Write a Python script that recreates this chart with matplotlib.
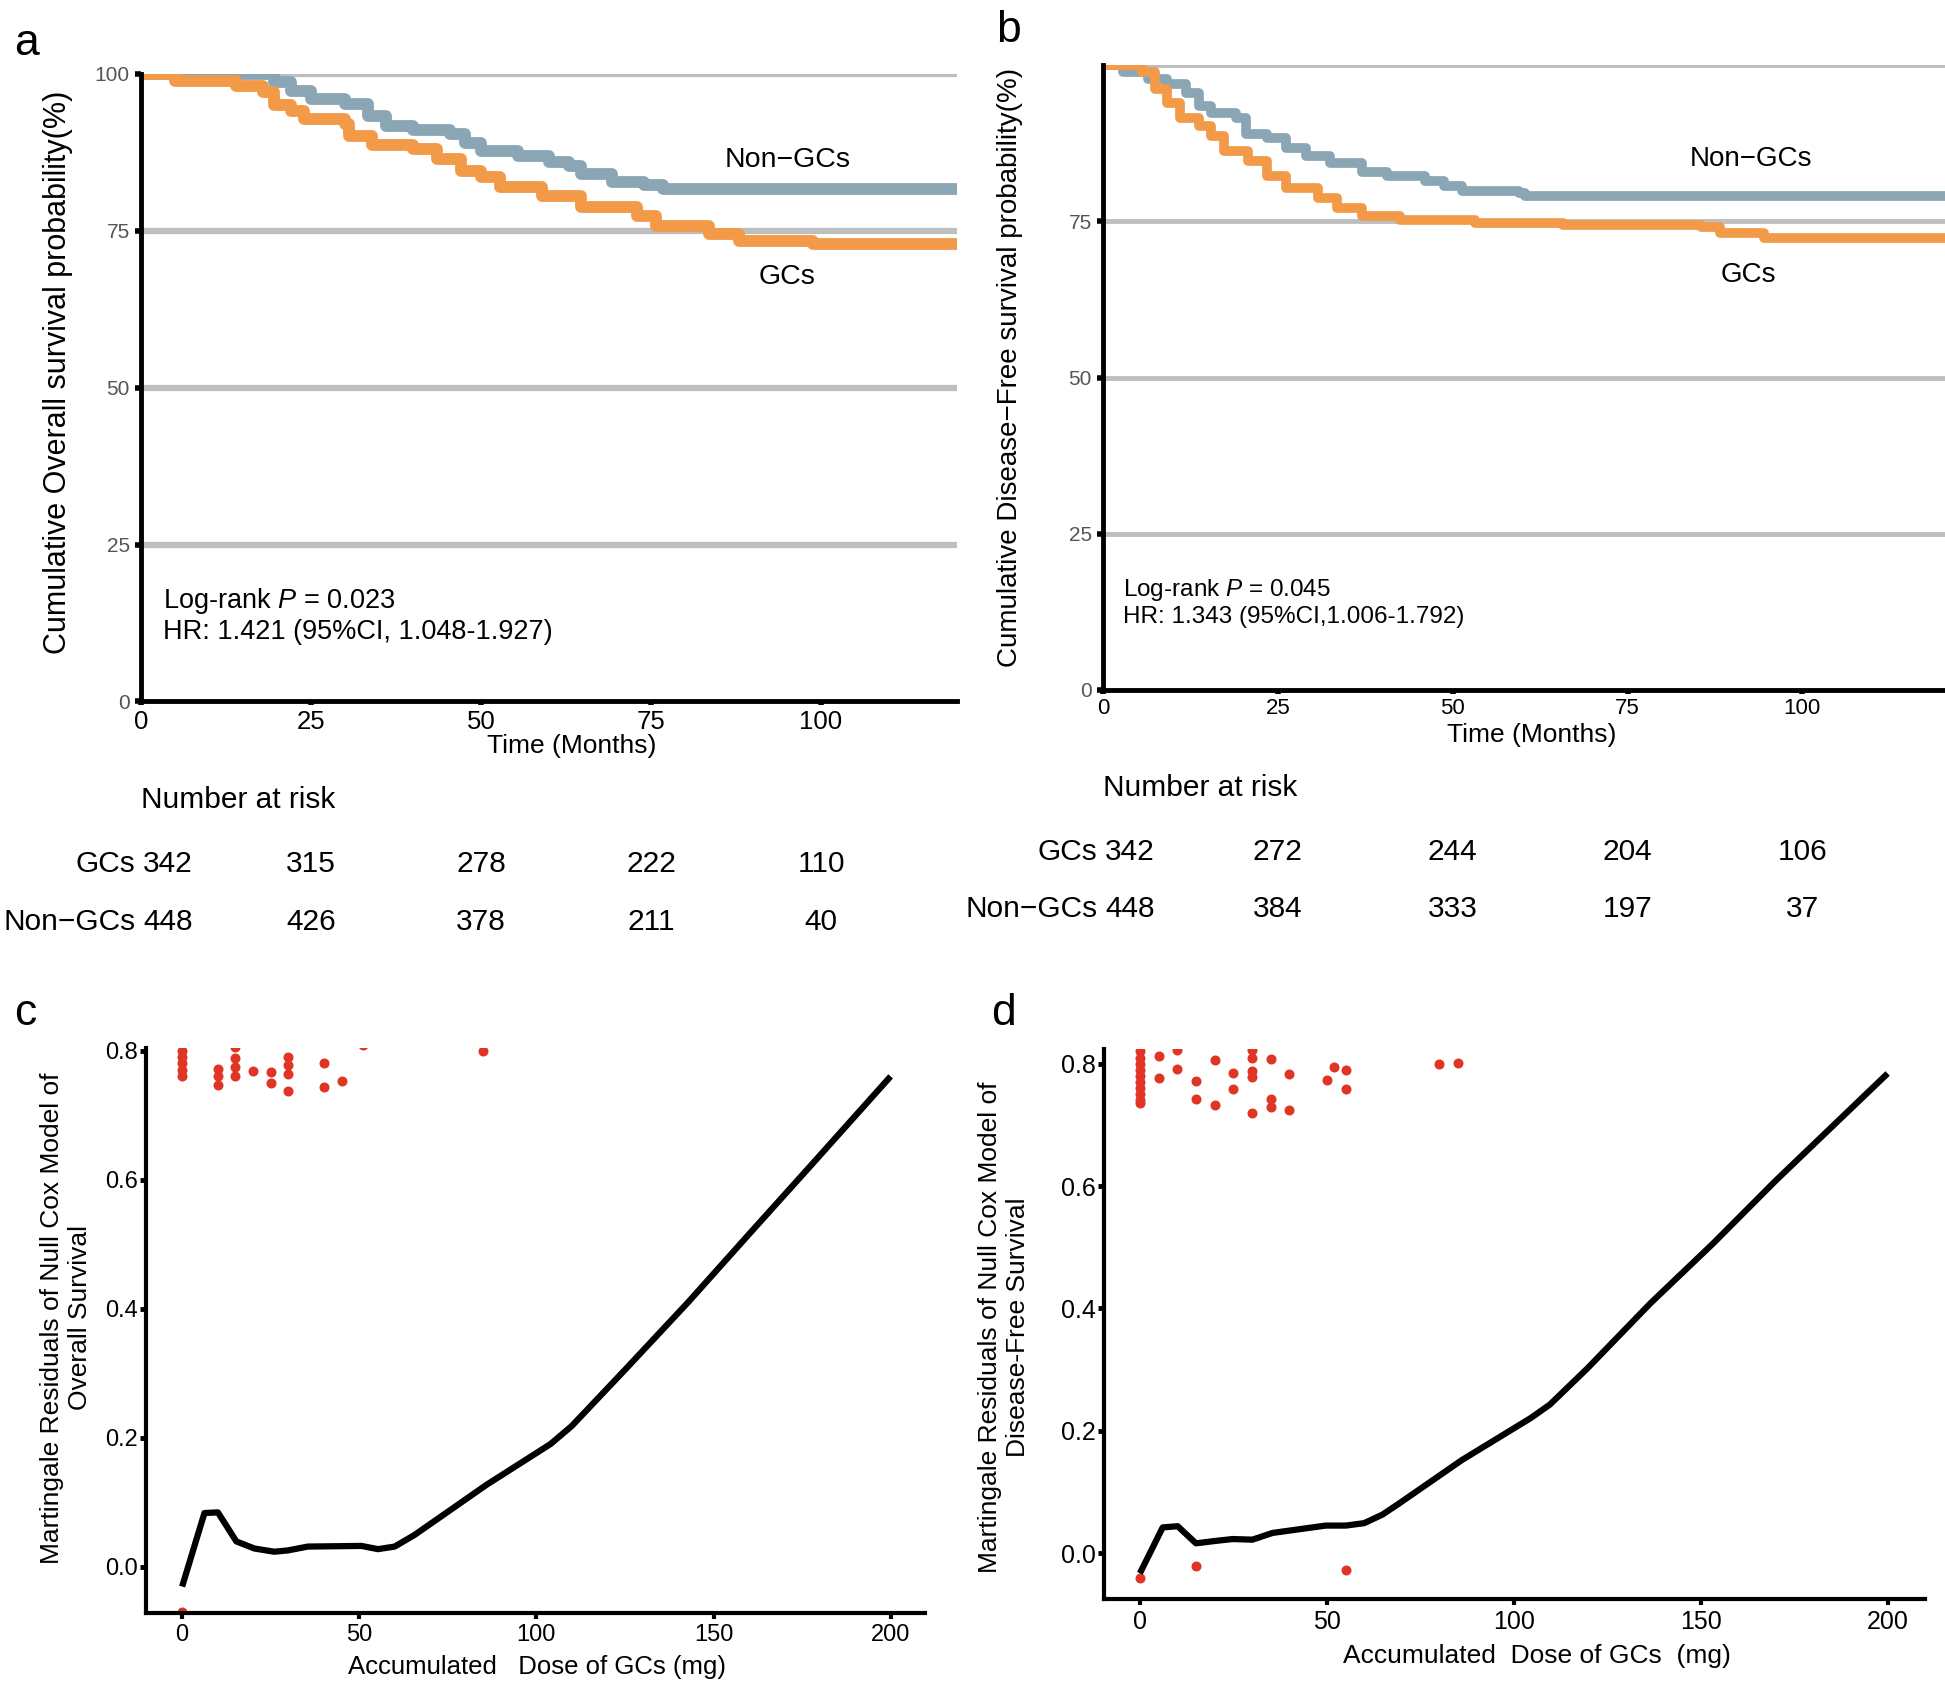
import matplotlib
matplotlib.use("Agg")
import matplotlib.pyplot as plt
from matplotlib.transforms import blended_transform_factory

plt.rcParams['font.family'] = ['Liberation Sans', 'DejaVu Sans']
plt.rcParams['mathtext.fontset'] = 'custom'
plt.rcParams['mathtext.it'] = 'Liberation Sans:italic'
plt.rcParams['mathtext.rm'] = 'Liberation Sans'

# ---------------- data ----------------
# panel a : overall survival (months, %)
os_gcs_t = [0, 5, 14, 18, 19.6, 22, 24, 30, 30.6, 34, 40, 43.5, 47, 50, 52.8, 59, 64.7, 73, 75.8, 83.6, 88, 98.8, 120]
os_gcs_s = [100, 98.8, 98, 97, 95, 94, 92.7, 92, 90, 88.7, 88, 86.4, 84.5, 83.6, 82, 80.5, 78.8, 77.3, 75.7, 74.5, 73.3, 72.8, 72.8]
os_non_t = [0, 16.9, 19.6, 22, 25, 30, 33.4, 36, 40, 45.4, 47.7, 50, 55.5, 60, 62.9, 64.7, 69.3, 73.9, 76.7, 120]
os_non_s = [100, 100, 98.7, 97.2, 96, 95.2, 93.3, 91.7, 91, 90.4, 88.9, 87.7, 86.9, 86, 85.3, 84, 82.8, 82.3, 81.7, 81.7]

# panel b : disease-free survival (months, %)
dfs_gcs_t = [0, 4.7, 5.6, 7.4, 9.2, 11, 13.7, 15.5, 17.3, 20.8, 23.5, 26.2, 30.7, 33.4, 37, 42.4, 53.2, 65.8, 85.5, 88.2, 94.5, 120.4]
dfs_gcs_s = [100, 100, 99, 96.2, 93.9, 91.5, 90.3, 88.7, 86.3, 84.7, 82.3, 80.3, 78.7, 77.1, 75.9, 75.3, 74.7, 74.4, 74.1, 73.1, 72.3, 72.3]
dfs_non_t = [0, 2, 2.9, 6.5, 9.2, 11.9, 13.7, 15.5, 19, 20.4, 23.5, 26.2, 29, 32.5, 37, 40.6, 46, 48.7, 51.4, 59.5, 60.4, 120.4]
dfs_non_s = [100, 100, 99, 97.8, 97, 95.5, 93.5, 92.3, 91.5, 89, 88.3, 86.7, 85.5, 84.3, 83, 82.3, 81.5, 80.7, 79.9, 79.5, 79.1, 79.1]

risk_times = [0, 25, 50, 75, 100]
risk_os_gcs = [342, 315, 278, 222, 110]
risk_os_non = [448, 426, 378, 211, 40]
risk_dfs_gcs = [342, 272, 244, 204, 106]
risk_dfs_non = [448, 384, 333, 197, 37]

# panel c : martingale residuals, overall survival
c_fit_x = [0, 6.3, 10.1, 15.3, 20.4, 26, 29.8, 35.5, 50.6, 55.3, 60, 65.6, 70.3, 86, 104, 110, 125, 142.7, 160.3, 178, 200]
c_fit_y = [-0.031, 0.083, 0.084, 0.039, 0.028, 0.023, 0.025, 0.031, 0.032, 0.027, 0.031, 0.049, 0.067, 0.127, 0.19, 0.218, 0.305, 0.409, 0.517, 0.625, 0.76]
c_pt_x = [0, 0, 0, 0, 0, 10, 10, 10, 15, 15, 15, 15, 20, 25, 25, 30, 30, 30, 30, 40, 40, 45, 51, 85, 0]
c_pt_y = [0.80, 0.79, 0.78, 0.77, 0.76, 0.772, 0.760, 0.746, 0.806, 0.788, 0.774, 0.760, 0.769, 0.767, 0.75,
          0.79, 0.778, 0.764, 0.737, 0.781, 0.743, 0.753, 0.808, 0.799, -0.071]

# panel d : martingale residuals, disease-free survival
d_fit_x = [0, 6.1, 10.1, 15, 20.3, 24.8, 30.1, 35.5, 42.6, 49.7, 55.1, 60, 64.9, 69.3, 86.1, 104.6, 109.7, 119.7, 136.5, 153.3, 170.1, 200]
d_fit_y = [-0.033, 0.042, 0.044, 0.016, 0.020, 0.023, 0.022, 0.033, 0.039, 0.045, 0.045, 0.049, 0.063, 0.081, 0.152, 0.221, 0.243, 0.302, 0.408, 0.506, 0.609, 0.784]
d_pt_x = [0, 0, 0, 0, 0, 0, 0, 0, 0, 0, 5, 5, 10, 10, 15, 15, 20, 20, 25, 25, 30, 30, 30, 30, 30,
          35, 35, 35, 40, 40, 50, 52, 55, 55, 80, 85, 0, 15, 55]
d_pt_y = [0.82, 0.81, 0.80, 0.79, 0.78, 0.77, 0.76, 0.75, 0.74, 0.735, 0.812, 0.777, 0.822, 0.791, 0.771, 0.742,
          0.806, 0.733, 0.784, 0.758, 0.822, 0.81, 0.788, 0.778, 0.72, 0.808, 0.742, 0.729, 0.783, 0.725,
          0.773, 0.795, 0.789, 0.758, 0.799, 0.801, -0.040, -0.021, -0.027]

# ---------------- style ----------------
W, H = 1945, 1682
orange = '#f29a48'
blue = '#8aa6b5'
red = '#e03424'
grid_gray = '#bebebe'
tick_gray = '#555555'

fig = plt.figure(figsize=(W / 100, H / 100), dpi=100)


def px_box(left, top, right, bottom):
    return [left / W, 1 - bottom / H, (right - left) / W, (bottom - top) / H]


def fy(py):
    return 1 - py / H


def km_panel(rect, xlim, gcs_t, gcs_s, non_t, non_s, lw, glw, yticks, ytsize, xtsize):
    ax = fig.add_axes(px_box(*rect))
    for g in [25, 50, 75, 100]:
        ax.axhline(g, color=grid_gray, lw=glw, zorder=1)
    ax.step(non_t, non_s, where='post', color=blue, lw=lw, zorder=3)
    ax.step(gcs_t, gcs_s, where='post', color=orange, lw=lw, zorder=3)
    ax.set_xlim(*xlim)
    ax.set_ylim(0, 100)
    ax.set_xticks(risk_times)
    ax.set_yticks(yticks)
    for s in ['top', 'right']:
        ax.spines[s].set_visible(False)
    for s in ['left', 'bottom']:
        ax.spines[s].set_linewidth(3.5)
        ax.spines[s].set_zorder(4)
    ax.tick_params(axis='y', length=4, width=4, labelsize=ytsize, labelcolor=tick_gray, pad=4)
    ax.tick_params(axis='x', length=3, width=4, labelsize=xtsize, labelcolor='black', pad=3)
    return ax


def risk_table(ax, title_py, row1_py, row2_py, gcs_vals, non_vals):
    tr = blended_transform_factory(ax.transData, fig.transFigure)
    fig.text(0, fy(title_py), 'Number at risk', transform=tr, fontsize=21.5, ha='left', va='center')
    for py, name, vals in [(row1_py, 'GCs', gcs_vals), (row2_py, 'Non\u2212GCs', non_vals)]:
        fig.text(-0.8, fy(py), name, transform=tr, fontsize=21.5, ha='right', va='center')
        for i, (t, v) in enumerate(zip(risk_times, vals)):
            if i == 0:
                fig.text(t + 0.3, fy(py), str(v), transform=tr, fontsize=21.5, ha='left', va='center')
            else:
                fig.text(t, fy(py), str(v), transform=tr, fontsize=21.5, ha='center', va='center')


# ---------------- panel a ----------------
axa = km_panel((141, 73.6, 957, 701.5), (0, 120), os_gcs_t, os_gcs_s, os_non_t, os_non_s,
               8.5, 4.5, [0, 25, 50, 75, 100], 15, 18.5)
axa.text(95.1, 86.2, 'Non\u2212GCs', fontsize=20.5, ha='center', va='center')
axa.text(95, 67.6, 'GCs', fontsize=20.5, ha='center', va='center')
axa.text(3.2, 16.0, 'Log-rank $P$ = 0.023', fontsize=19.5, ha='left', va='center')
axa.text(3.2, 11.1, 'HR: 1.421 (95%CI, 1.048-1.927)', fontsize=19.5, ha='left', va='center')
fig.text(58 / W, fy(372), 'Cumulative Overall survival probability(%)', rotation=90, fontsize=22, ha='center', va='center')
fig.text(572 / W, fy(746), 'Time (Months)', fontsize=19, ha='center', va='center')
risk_table(axa, 800, 864.5, 921.6, risk_os_gcs, risk_os_non)

# ---------------- panel b ----------------
axb = km_panel((1103, 65.4, 1945, 689.6), (0, 120.4), dfs_gcs_t, dfs_gcs_s, dfs_non_t, dfs_non_s,
               7, 3.5, [0, 25, 50, 75], 15, 16)
axb.text(92.6, 85.0, 'Non\u2212GCs', fontsize=20, ha='center', va='center')
axb.text(92.3, 66.4, 'GCs', fontsize=20, ha='center', va='center')
axb.text(2.9, 16.0, 'Log-rank $P$ = 0.045', fontsize=17.5, ha='left', va='center')
axb.text(2.9, 11.6, 'HR: 1.343 (95%CI,1.006-1.792)', fontsize=17.5, ha='left', va='center')
fig.text(1010 / W, fy(367), 'Cumulative Disease\u2212Free survival probability(%)', rotation=90, fontsize=20, ha='center', va='center')
fig.text(1532 / W, fy(735), 'Time (Months)', fontsize=19, ha='center', va='center')
risk_table(axb, 787.6, 852, 909, risk_dfs_gcs, risk_dfs_non)


# ---------------- panels c, d ----------------
def resid_panel(rect, xlim, ylim, fx_, fy_, px_, py_, tsize):
    ax = fig.add_axes(px_box(*rect))
    ax.scatter(px_, py_, s=52, color=red, linewidths=0, zorder=2)
    ax.plot(fx_, fy_, color='black', lw=4.5, zorder=3, solid_capstyle='butt')
    ax.set_xlim(*xlim)
    ax.set_ylim(*ylim)
    ax.set_xticks([0, 50, 100, 150, 200])
    ax.set_yticks([0.0, 0.2, 0.4, 0.6, 0.8])
    ax.set_yticklabels(['0.0', '0.2', '0.4', '0.6', '0.8'])
    for s in ['top', 'right']:
        ax.spines[s].set_visible(False)
    for s in ['left', 'bottom']:
        ax.spines[s].set_linewidth(3)
    ax.tick_params(axis='y', length=4, width=3.5, labelsize=tsize, pad=2)
    ax.tick_params(axis='x', length=4, width=3, labelsize=tsize, pad=4)
    return ax


axc = resid_panel((146, 1048, 925, 1613), (-10.2, 209.7), (-0.072, 0.804),
                  c_fit_x, c_fit_y, c_pt_x, c_pt_y, 17)
fig.text(66 / W, fy(1318), 'Martingale Residuals of Null Cox Model of\nOverall Survival',
         rotation=90, fontsize=19, ha='center', va='center', multialignment='center')
fig.text(537 / W, fy(1667), 'Accumulated   Dose of GCs (mg)', fontsize=18.5, ha='center', va='center')

axd = resid_panel((1104, 1049, 1925, 1599), (-9.6, 210), (-0.075, 0.824),
                  d_fit_x, d_fit_y, d_pt_x, d_pt_y, 18)
fig.text(1004 / W, fy(1327), 'Martingale Residuals of Null Cox Model of\nDisease-Free Survival',
         rotation=90, fontsize=19, ha='center', va='center', multialignment='center')
fig.text(1537 / W, fy(1656), 'Accumulated  Dose of GCs  (mg)', fontsize=19, ha='center', va='center')

# panel letters
for letter, x, y in [('a', 14, 55), ('b', 996, 42), ('c', 14, 1025), ('d', 991, 1025)]:
    fig.text(x / W, fy(y), letter, fontsize=32, ha='left', va='baseline')

fig.savefig('out.png', dpi=100)
